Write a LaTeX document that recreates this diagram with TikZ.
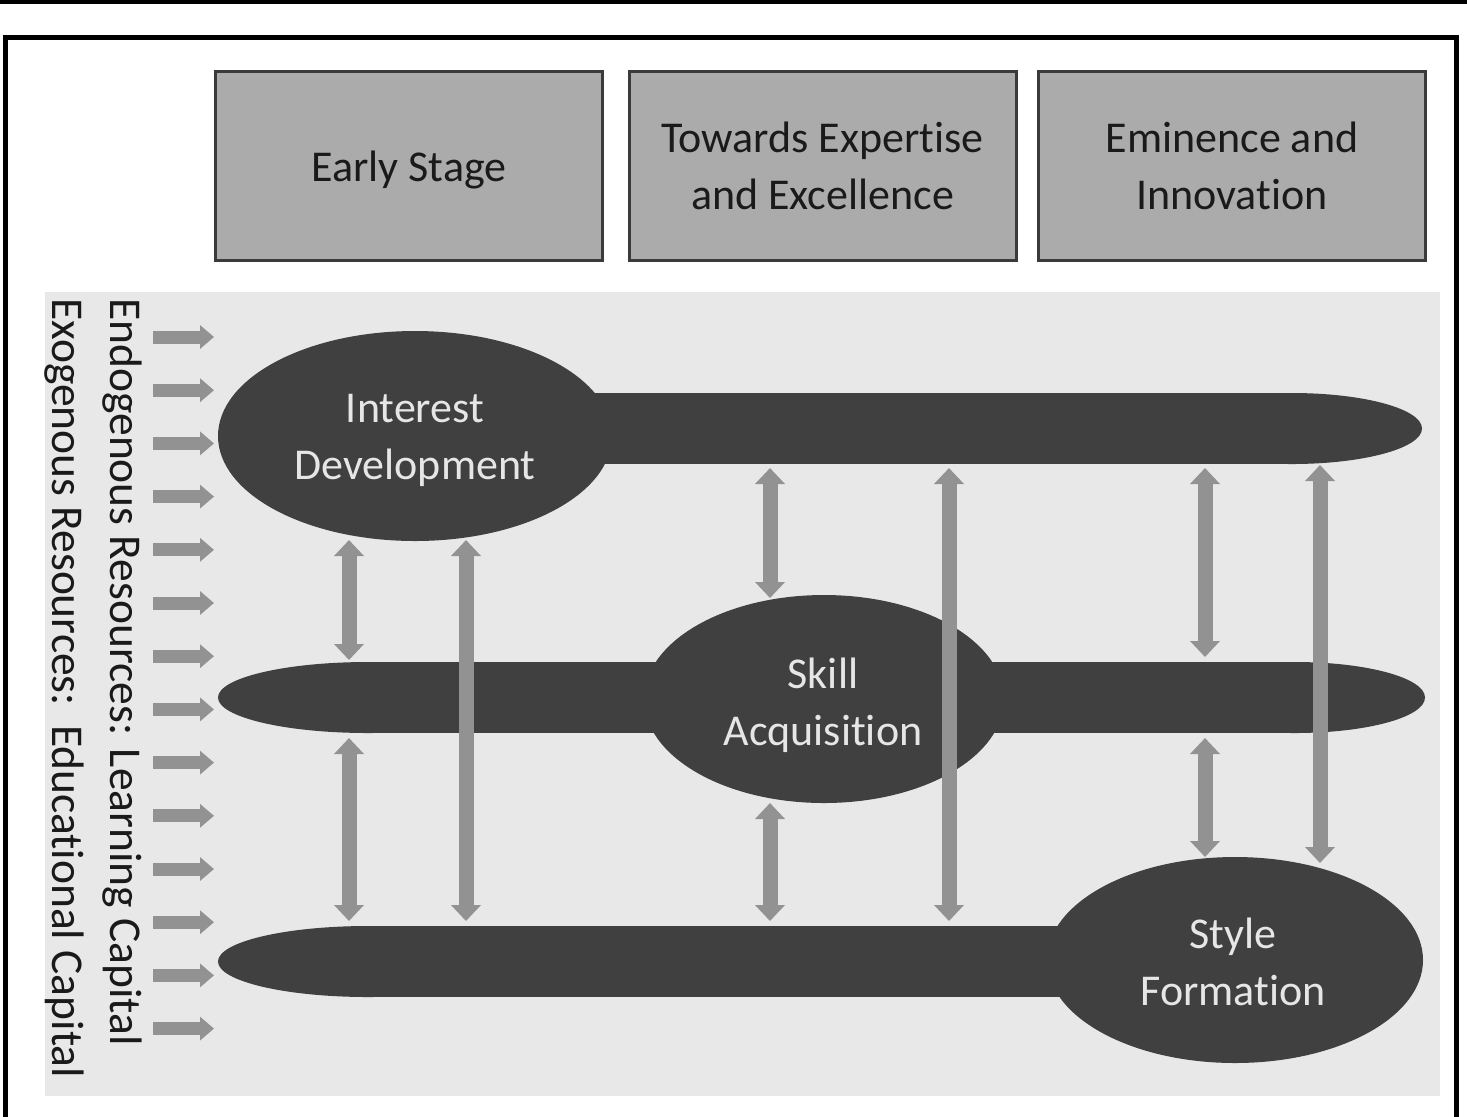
\documentclass[tikz,border=0pt]{standalone}
\usepackage{fontspec}
\setmainfont{Carlito}[Ligatures={NoCommon,NoContextual}]
\usetikzlibrary{arrows.meta,shapes.geometric}
\definecolor{hdrfill}{HTML}{ABABAB}
\definecolor{hdrline}{HTML}{3A3A3A}
\definecolor{panelfill}{HTML}{E8E8E8}
\definecolor{darkshape}{HTML}{404040}
\definecolor{arrowgray}{HTML}{929292}
\definecolor{lighttext}{HTML}{E6E6E6}
\definecolor{hdrtext}{HTML}{1A1A1A}
\begin{document}
\begin{tikzpicture}[x=0.5pt,y=-0.5pt,
  hdr/.style={draw=hdrline, line width=1.5pt, fill=hdrfill, minimum width=193.5pt,
    minimum height=94.5pt, inner sep=0pt, font=\fontsize{22}{28.5}\selectfont,
    text=hdrtext, align=center},
  blob/.style={ellipse, fill=darkshape, inner sep=0pt,
    font=\fontsize{22}{28.5}\selectfont, text=lighttext, align=center},
  link/.style={draw=arrowgray, line width=7.5pt,
    {Triangle[width=14.5pt,length=8pt]}-{Triangle[width=14.5pt,length=8pt]}},
  feed/.style={draw=arrowgray, line width=6.5pt, -{Triangle[width=11.5pt,length=7pt]}},
  vlabel/.style={rotate=-90, anchor=base west, inner sep=0pt,
    font=\fontsize{22.75}{28}\selectfont, text=hdrtext}
]
\useasboundingbox (0,0) rectangle (1467,1116);
\fill[white] (0,0) rectangle (1467,1116);
% outer frame
\fill[black] (0,0) rectangle (1467,3.5);
\draw[line width=2.5pt] (5,1125) -- (5,37.5) -- (1456,37.5) -- (1456,1125);
% stage headers
\node[hdr] (early) at (409,165.5) {};
\node[hdr] (towards) at (822.5,165.5) {Towards Expertise\\and Excellence};
\node[hdr] (eminence) at (1232,165.5) {Eminence and\\Innovation};
\node[hdr, draw=none, fill=none, minimum width=0pt, minimum height=0pt] (earlylbl) at (409,169.5) {Early Stage};
% panel
\fill[panelfill] (45,292) rectangle (1440,1096);
% vertical labels
\node[vlabel] (endo) at (110,298) {Endogenous Resources: Learning Capital};
\node[vlabel] (exo) at (52,298) {Exogenous Resources:\hspace{0.12em} Educational Capital};
% feeding arrows
\foreach \i in {0,...,13}{
  \coordinate (f\i a) at (153,{337+53.2*\i});
  \coordinate (f\i b) at (214,{337+53.2*\i});
  \draw[feed] (f\i a) -- (f\i b);
}
% bars
\fill[darkshape] (415,393) rectangle (1292,464);
\fill[darkshape] (1292,428.5) ellipse [x radius=65pt, y radius=17.75pt];
\fill[darkshape] (368,662) rectangle (1295,733);
\fill[darkshape] (368,697.5) ellipse [x radius=75pt, y radius=17.75pt];
\fill[darkshape] (1295,697.5) ellipse [x radius=65pt, y radius=17.75pt];
\fill[darkshape] (368,926) rectangle (1235,997);
\fill[darkshape] (368,961.5) ellipse [x radius=75pt, y radius=17.75pt];
% phase ellipses
\node[blob, minimum width=197pt, minimum height=105pt] (interest) at (415,436) {};
\node[blob, minimum width=180pt, minimum height=104pt] (skill) at (824,699) {};
\node[blob, minimum width=188pt, minimum height=103pt] (style) at (1235,960) {};
\node[blob, fill=none] (interestlbl) at (415,440) {Interest\\Development};
\node[blob, fill=none] (skilllbl) at (823,705) {Skill\\Acquisition};
\node[blob, fill=none] (stylelbl) at (1233,962) {Style\\Formation};
% interaction arrows
\coordinate (a1t) at (349,540); \coordinate (a1b) at (349,660);
\coordinate (a2t) at (349,738); \coordinate (a2b) at (349,921);
\coordinate (a3t) at (466,540); \coordinate (a3b) at (466,921);
\coordinate (a4t) at (770,468); \coordinate (a4b) at (770,598);
\coordinate (a5t) at (770,803); \coordinate (a5b) at (770,921);
\coordinate (a6t) at (949,468); \coordinate (a6b) at (949,921);
\coordinate (a7t) at (1205,468); \coordinate (a7b) at (1205,657);
\coordinate (a8t) at (1205,738); \coordinate (a8b) at (1205,857);
\coordinate (a9t) at (1320,465); \coordinate (a9b) at (1320,863);
\foreach \k in {1,...,9}{\draw[link] (a\k t) -- (a\k b);}
\end{tikzpicture}
\end{document}
